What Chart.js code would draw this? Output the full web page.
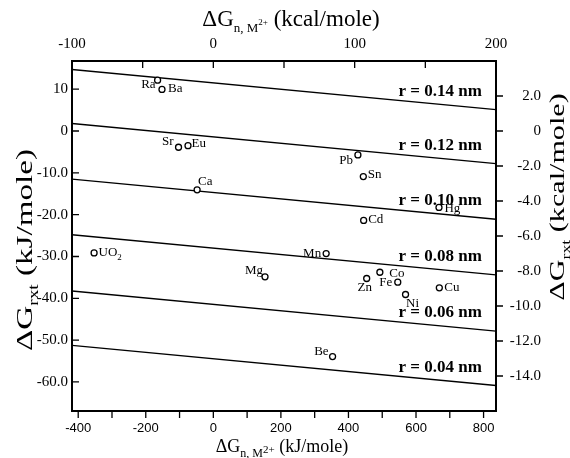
<!DOCTYPE html>
<html>
<head>
<meta charset="utf-8">
<script src="https://cdn.jsdelivr.net/npm/chart.js@4.4.1/dist/chart.umd.min.js"></script>
<style>
  body { margin: 0; background: #fff; }
  #wrap { width: 570px; height: 458px; position: relative; }
</style>
</head>
<body>
<div id="wrap"><canvas id="dgChart"></canvas></div>
<script>
// Metal ions: dG_n,M2+ (kJ/mole) vs dG_rxt (kJ/mole)
const metals = ['Ra', 'Ba', 'Sr', 'Eu', 'Ca', 'Pb', 'Sn', 'Hg', 'Cd', 'UO2', 'Mg', 'Mn', 'Zn', 'Co', 'Fe', 'Ni', 'Cu', 'Be'];
const dGn = [-165, -152, -103, -75, -48, 428, 444, 668, 445, -353, 153, 334, 454, 493, 546, 569, 669, 353];
const dGrxt = [12.15, 9.94, -3.88, -3.5, -14.06, -5.72, -10.89, -18.28, -21.38, -29.15, -34.87, -29.31, -35.27, -33.77, -36.15, -39.09, -37.49, -53.93];

// Ionic radius lines, value at the left and right edge of the plot
const radii = ['0.14', '0.12', '0.10', '0.08', '0.06', '0.04'];
const lineX = [-418.4, 836.8];
const lineStart = [14.7, 1.8, -11.5, -24.8, -38.25, -51.25];
const lineEnd = [5.1, -7.8, -21.1, -34.4, -47.85, -60.85];

// Tick values
const xTicksKJ = [-400, -300, -200, -100, 0, 100, 200, 300, 400, 500, 600, 700, 800];
const xTicksKcal = [-100, -50, 0, 50, 100, 150, 200];
const yTicksKJ = [10, 0, -10, -20, -30, -40, -50, -60];
const yTicksKcal = [2, 0, -2, -4, -6, -8, -10, -12, -14];

const KCAL = 4.184;
const serif = 'Liberation Serif';

// label placement next to each point: [dx, dy, align]
const labelPos = {
  Ra: [-2, 4.5, 'right'], Ba: [6, -1, 'left'], Sr: [-5, -6, 'right'], Eu: [3.5, -2, 'left'],
  Ca: [1, -8, 'left'], Pb: [-5, 6, 'right'], Sn: [4.5, -2, 'left'], Hg: [5.5, 1, 'left'],
  Cd: [4.5, -1, 'left'], UO2: [4.5, 0, 'left'], Mg: [-2, -6, 'right'], Mn: [-5, 0, 'right'],
  Zn: [-2, 9, 'center'], Co: [9.5, 1.5, 'left'], Fe: [-5.5, 0.5, 'right'], Ni: [0.5, 9.5, 'left'],
  Cu: [5, 0, 'left'], Be: [-4, -5, 'right']
};

const points = dGn.map((v, i) => ({ x: v, y: dGrxt[i] }));
const lineSets = radii.map((r, i) => ({
  label: 'r = ' + r + ' nm',
  data: [{ x: lineX[0], y: lineStart[i] }, { x: lineX[1], y: lineEnd[i] }],
  showLine: true,
  borderColor: '#000',
  borderWidth: 1.4,
  pointRadius: 0
}));

// draw text with sub/superscripts, centred on x; stretch widens it along the baseline
function drawRich(ctx, parts, x, y, stretch) {
  const s = stretch || 1;
  let w = 0;
  parts.forEach(p => { ctx.font = p.size + 'px "' + serif + '"'; w += ctx.measureText(p.t).width; });
  ctx.save();
  ctx.translate(x, y);
  ctx.scale(s, 1);
  let cx = -w / 2;
  parts.forEach(p => {
    ctx.font = p.size + 'px "' + serif + '"';
    ctx.fillText(p.t, cx, p.dy || 0);
    cx += ctx.measureText(p.t).width;
  });
  ctx.restore();
}

const decorations = {
  id: 'decorations',
  afterDraw(chart) {
    const ctx = chart.ctx;
    const { x, y, x2, y2 } = chart.scales;
    const a = chart.chartArea;
    ctx.save();
    ctx.strokeStyle = '#000';
    ctx.fillStyle = '#000';

    // frame
    ctx.lineWidth = 2;
    ctx.strokeRect(a.left, a.top, a.right - a.left, a.bottom - a.top);

    // tick marks
    ctx.lineWidth = 1.3;
    ctx.beginPath();
    y.ticks.forEach(t => { const p = y.getPixelForValue(t.value); ctx.moveTo(a.left, p); ctx.lineTo(a.left + 7, p); });
    y2.ticks.forEach(t => { const p = y2.getPixelForValue(t.value); ctx.moveTo(a.right, p); ctx.lineTo(a.right + 7, p); });
    x2.ticks.forEach(t => { const p = x2.getPixelForValue(t.value); ctx.moveTo(p, a.top); ctx.lineTo(p, a.top + 7); });
    x.ticks.forEach(t => { const p = x.getPixelForValue(t.value); ctx.moveTo(p, a.bottom + 1); ctx.lineTo(p, a.bottom + 7); });
    ctx.stroke();

    // radius labels
    ctx.font = 'bold 17px "' + serif + '"';
    ctx.textAlign = 'right';
    ctx.textBaseline = 'middle';
    const xr = 795, xm = 673;
    radii.forEach((r, i) => {
      const f = (xm - lineX[0]) / (lineX[1] - lineX[0]);
      const v = lineStart[i] + f * (lineEnd[i] - lineStart[i]);
      ctx.fillText('r = ' + r + ' nm', x.getPixelForValue(xr), y.getPixelForValue(v) - 13);
    });

    // point labels
    ctx.font = '13px "' + serif + '"';
    metals.forEach((m, i) => {
      const px = x.getPixelForValue(dGn[i]);
      const py = y.getPixelForValue(dGrxt[i]);
      const [dx, dy, al] = labelPos[m];
      ctx.textAlign = al;
      if (m === 'UO2') {
        ctx.textAlign = 'left';
        ctx.fillText('UO', px + dx, py + dy);
        const w = ctx.measureText('UO').width;
        ctx.font = '9px "' + serif + '"';
        ctx.fillText('2', px + dx + w, py + dy + 5);
        ctx.font = '13px "' + serif + '"';
      } else {
        ctx.fillText(m, px + dx, py + dy);
      }
    });

    // axis titles
    ctx.textAlign = 'left';
    ctx.textBaseline = 'alphabetic';
    drawRich(ctx, [
      { t: '\u0394G', size: 23 }, { t: 'n, M', size: 13, dy: 6 }, { t: '2+', size: 9, dy: -1 },
      { t: ' (kcal/mole)', size: 23 }
    ], 291, 26);
    drawRich(ctx, [
      { t: '\u0394G', size: 18 }, { t: 'n, M', size: 12, dy: 5 }, { t: '2+', size: 11, dy: 1 },
      { t: ' (kJ/mole)', size: 18 }
    ], 282, 452);

    ctx.save();
    ctx.translate(32, 250);
    ctx.rotate(-Math.PI / 2);
    drawRich(ctx, [{ t: '\u0394G', size: 24 }, { t: 'rxt', size: 14, dy: 6 }, { t: ' (kJ/mole)', size: 24 }], 0, 0, 1.38);
    ctx.restore();

    ctx.save();
    ctx.translate(564, 197);
    ctx.rotate(-Math.PI / 2);
    drawRich(ctx, [{ t: '\u0394G', size: 22 }, { t: 'rxt', size: 13, dy: 6 }, { t: ' (kcal/mole)', size: 22 }], 0, 0, 1.37);
    ctx.restore();

    ctx.restore();
  }
};

const noGrid = { display: false, drawTicks: false };

const ctx = document.getElementById('dgChart').getContext('2d');
const dgChart = new Chart(ctx, {
  type: 'scatter',
  data: {
    datasets: [{
      label: 'metals',
      data: points,
      pointRadius: 3,
      pointBorderWidth: 1.3,
      pointBorderColor: '#000',
      pointBackgroundColor: '#fff'
    }].concat(lineSets)
  },
  options: {
    responsive: true,
    maintainAspectRatio: false,
    animation: false,
    layout: { padding: { left: 0, right: 29, top: 0, bottom: 0 } },
    plugins: { legend: { display: false }, tooltip: { enabled: false } },
    scales: {
      x: {
        type: 'linear', position: 'bottom', min: -418.4, max: 836.8,
        afterBuildTicks: s => { s.ticks = xTicksKJ.map(v => ({ value: v })); },
        afterFit: s => { s.height = 47; },
        grid: noGrid, border: { display: false },
        ticks: {
          autoSkip: false, maxRotation: 0, padding: 10, color: '#000',
          font: { family: 'Liberation Sans', size: 13 },
          callback: v => (v % 200 === 0 ? String(v) : '')
        }
      },
      x2: {
        type: 'linear', position: 'top', min: -100, max: 200,
        afterBuildTicks: s => { s.ticks = xTicksKcal.map(v => ({ value: v })); },
        afterFit: s => { s.height = 61; },
        grid: noGrid, border: { display: false },
        ticks: {
          autoSkip: false, maxRotation: 0, padding: 8, color: '#000',
          font: { family: serif, size: 15 },
          callback: v => (v % 100 === 0 ? String(v) : '')
        }
      },
      y: {
        type: 'linear', position: 'left', min: -16 * KCAL, max: 4 * KCAL,
        afterBuildTicks: s => { s.ticks = yTicksKJ.map(v => ({ value: v })); },
        afterFit: s => { s.width = 72; },
        grid: noGrid, border: { display: false },
        ticks: {
          autoSkip: false, padding: 4, color: '#000',
          font: { family: serif, size: 15 },
          callback: v => (v >= 0 ? String(v) : v.toFixed(1))
        }
      },
      y2: {
        type: 'linear', position: 'right', min: -16, max: 4,
        afterBuildTicks: s => { s.ticks = yTicksKcal.map(v => ({ value: v })); },
        afterFit: s => { s.width = 45; },
        grid: noGrid, border: { display: false },
        ticks: {
          autoSkip: false, crossAlign: 'far', color: '#000',
          font: { family: serif, size: 15 },
          callback: v => (v === 0 ? '0' : v.toFixed(1))
        }
      }
    }
  },
  plugins: [decorations]
});
</script>
</body>
</html>
